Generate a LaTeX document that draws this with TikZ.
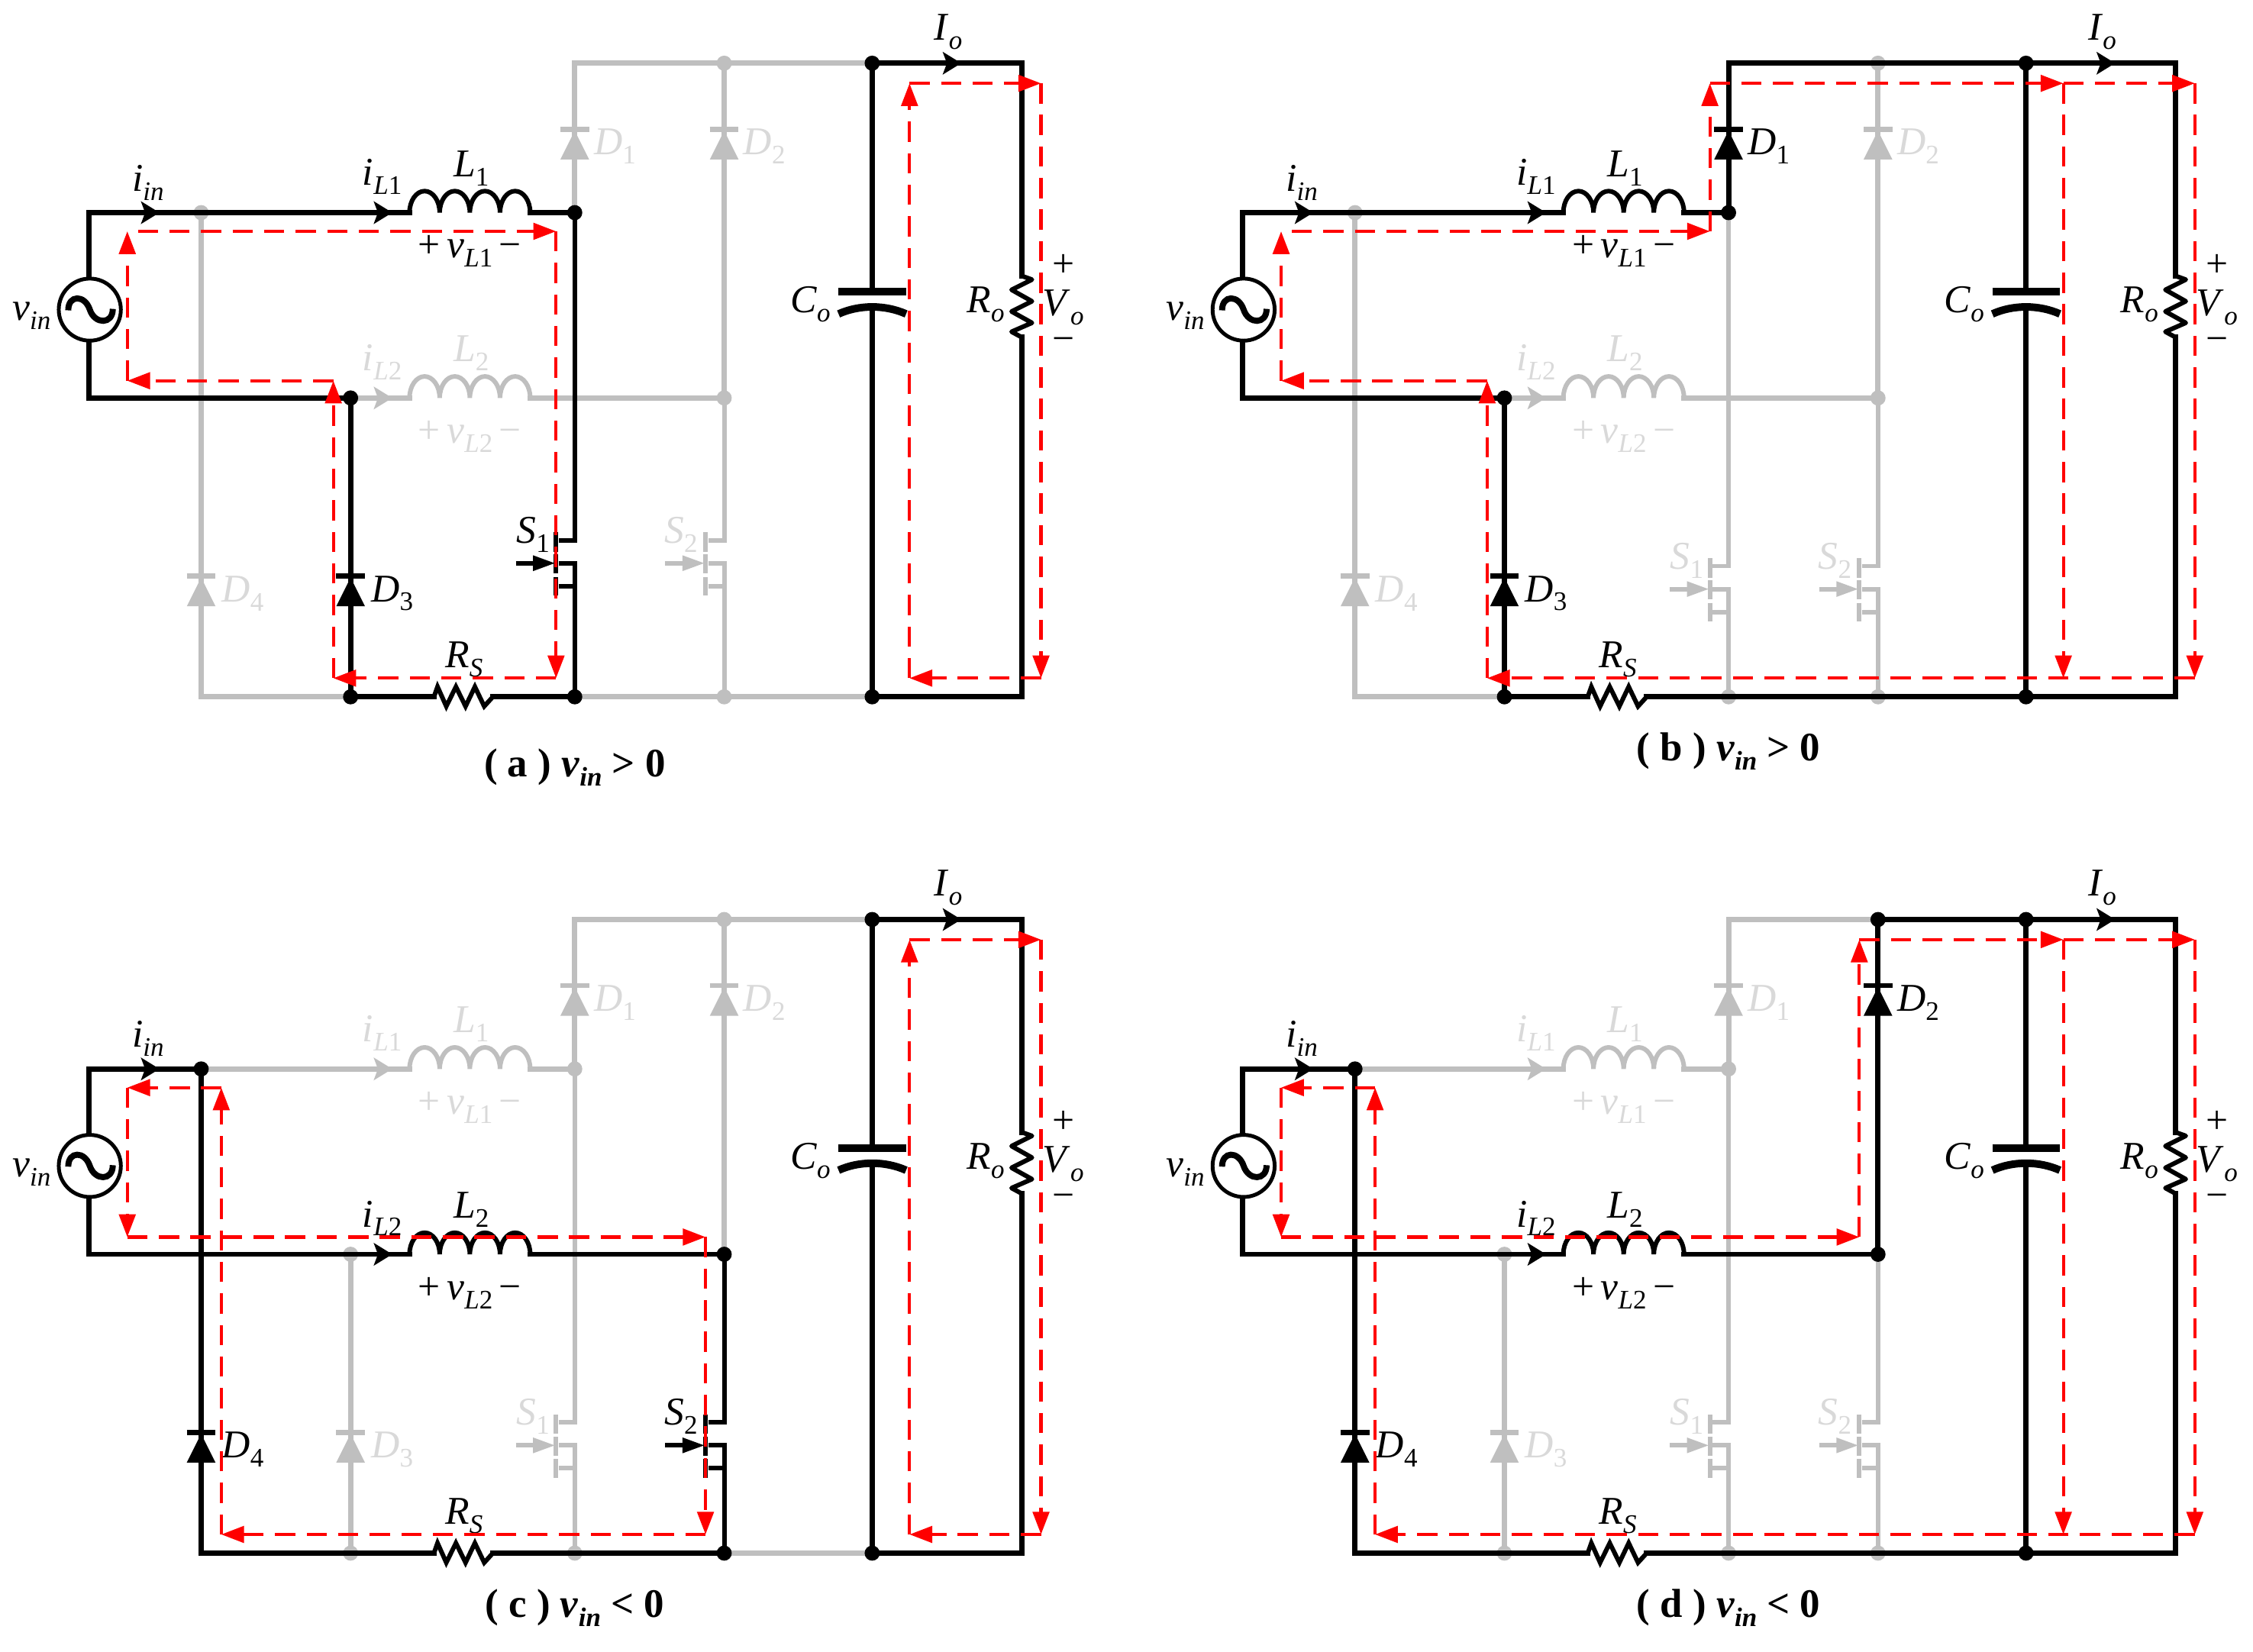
\documentclass[tikz,border=0pt]{standalone}
\usepackage{fontspec}
\setmainfont{Liberation Serif}
\usepackage{xcolor}
\usepackage{tikz}
\usetikzlibrary{arrows.meta}
\definecolor{wiregray}{RGB}{191,191,191}
\definecolor{textgray}{RGB}{217,217,217}
\newcommand\live{\colorlet{wirec}{black}\colorlet{textc}{black}}
\newcommand\idle{\colorlet{wirec}{wiregray}\colorlet{textc}{textgray}}
\newcommand\sy[2]{\textit{#1}\raisebox{-3.6pt}{\fontsize{10.6}{12}\selectfont #2}}
\tikzset{
    wire/.style = {draw=wirec, line width=2.1pt, line cap=rect},
    part/.style = {draw=wirec, line width=1.8pt},
    jdot/.style = {circle, fill=wirec, inner sep=0pt, minimum size=6pt},
    lab/.style = {inner sep=0pt, text=textc, font=\fontsize{15.6}{18}\selectfont},
    ttl/.style = {inner sep=0pt, font=\bfseries\fontsize{16}{18}\selectfont},
    flow/.style = {draw=red, line width=1.25pt, dash pattern=on 8pt off 4.5pt, -{Triangle[length=9pt,width=6.5pt]}}
}
\newcommand\jn[1]{\node[jdot] (j#1) at (#1) {};}
\newcommand\wtip[1]{\fill[wirec,shift={(#1)}] (0,0) -- (-13,8) -- (-10,0) -- (-13,-8) -- cycle;}
\newcommand\diode[1]{%
    \draw[draw=wirec,line width=2pt,shift={(#1)}] (-10,0) -- (10,0);
    \fill[wirec,shift={(#1)}] (0,-1) -- (-10,-21) -- (10,-21) -- cycle;}
\newcommand\coil[1]{%
    \draw[part] (#1) arc[start angle=180,end angle=0,x radius=10.5,y radius=15]
        arc[start angle=180,end angle=0,x radius=10.5,y radius=15]
        arc[start angle=180,end angle=0,x radius=10.5,y radius=15]
        arc[start angle=180,end angle=0,x radius=10.5,y radius=15];}
\newcommand\fet[3]{%
    \begin{scope}[shift={(#1)}]
        \draw[part] (#2) -- (0,16) -- (-11,16);
        \draw[part] (-11,0) -- (0,0) -- (#3);
        \draw[part] (-11,-16) -- (0,-16);
        \draw[part] (-13,21.5) -- (-13,8);
        \draw[part] (-13,6) -- (-13,-7);
        \draw[part] (-13,-9.5) -- (-13,-22.5);
        \draw[part] (-41,0) -- (-20,0);
        \fill[wirec] (-14,0) -- (-29,5.5) -- (-29,-5.5) -- cycle;
    \end{scope}}
% points of one panel
\newcommand\circuitnodes{%
    \coordinate (n62t) at (62,-148); \coordinate (n62b) at (62,-277);
    \coordinate (n140t) at (140,-148); \coordinate (n140b) at (140,-485);
    \coordinate (n244m) at (244,-277); \coordinate (n244b) at (244,-485);
    \coordinate (n400u) at (400,-44); \coordinate (n400t) at (400,-148); \coordinate (n400b) at (400,-485);
    \coordinate (n504u) at (504,-44); \coordinate (n504m) at (504,-277); \coordinate (n504b) at (504,-485);
    \coordinate (n607u) at (607,-44); \coordinate (n607b) at (607,-485);
    \coordinate (n711u) at (711,-44); \coordinate (n711b) at (711,-485);
    \coordinate (lia) at (285,-148); \coordinate (lib) at (369,-148);
    \coordinate (lja) at (285,-277); \coordinate (ljb) at (369,-277);
    \coordinate (rsa) at (302,-485); \coordinate (rsb) at (343,-485);
    \coordinate (roa) at (711,-192); \coordinate (rob) at (711,-234.7);
    \coordinate (cpa) at (607,-203); \coordinate (cpb) at (607,-213);
    \coordinate (srct) at (62,-193); \coordinate (srcb) at (62,-238);
    \coordinate (tin) at (111,-148); \coordinate (tli) at (273,-148); \coordinate (tlj) at (273,-277); \coordinate (tio) at (669,-44);
    \coordinate (di) at (400,-90); \coordinate (dj) at (504,-90); \coordinate (dk) at (244,-401); \coordinate (dl) at (140,-401);
    \coordinate (sig) at (400,-\gy); \coordinate (sjg) at (504,-\gy);
    \coordinate (fa) at (88.6,-161); \coordinate (fq) at (96,-161); \coordinate (fb) at (387,-161); \coordinate (fc) at (387,-472);
    \coordinate (fd) at (232,-472); \coordinate (fe) at (232,-265); \coordinate (ff) at (88.6,-265);
    \coordinate (fg) at (387,-58); \coordinate (fh) at (633,-58); \coordinate (fi) at (724.5,-58);
    \coordinate (fj) at (724.5,-472); \coordinate (fk) at (633,-472); \coordinate (fl) at (154,-161);
    \coordinate (fm) at (491,-265); \coordinate (fn) at (491,-472); \coordinate (fo) at (154,-472);
    \coordinate (fp) at (491,-58);}
% branches
\newcommand\brin{%
    \draw[wire] (n140t) -- (n62t) -- (srct);
    \draw[wire] (srcb) -- (n62b) -- (n244m);
    \node[circle,draw=black,line width=1.5pt,minimum size=24.6pt,inner sep=0pt] (src) at (62.5,-215.5) {};
    \draw[line width=2.4pt] (47.5,-216) .. controls (47.5,-205) and (59,-205) .. (62.5,-215.5) .. controls (66,-226) and (78.5,-226) .. (78.5,-215);
    \wtip{tin}
    \node[lab] (lvin) at (22,-220) {\sy{v}{\textit{in}}};
    \node[lab] (liin) at (103,-127) {\sy{i}{\textit{in}}};}
\newcommand\bri{%
    \draw[wire] (n140t) -- (lia);
    \coil{lia}
    \draw[wire] (lib) -- (n400t);
    \wtip{tli}
    \node[lab] (lili) at (266,-123) {\sy{i}{\textit{L}1}};
    \node[lab] (lli) at (328,-117) {\sy{L}{1}};
    \node[lab] (lvli) at (327,-175) {+\,\sy{v}{\textit{L}1}\,−};}
\newcommand\brj{%
    \draw[wire] (n244m) -- (lja);
    \coil{lja}
    \draw[wire] (ljb) -- (n504m);
    \wtip{tlj}
    \node[lab] (lilj) at (266,-252) {\sy{i}{\textit{L}2}};
    \node[lab] (llj) at (328,-246) {\sy{L}{2}};
    \node[lab] (lvlj) at (327,-304) {+\,\sy{v}{\textit{L}2}\,−};}
\newcommand\coldi{\draw[wire] (n400t) -- (n400u); \diode{di} \node[lab] (ldi) at (428,-102) {\sy{D}{1}};}
\newcommand\coldj{\draw[wire] (n504m) -- (n504u); \diode{dj} \node[lab] (ldj) at (532,-102) {\sy{D}{2}};}
\newcommand\coldk{\draw[wire] (n244b) -- (n244m); \diode{dk} \node[lab] (ldk) at (273,-413) {\sy{D}{3}};}
\newcommand\coldl{\draw[wire] (n140b) -- (n140t); \diode{dl} \node[lab] (ldl) at (169,-413) {\sy{D}{4}};}
\newcommand\colsi{\fet{sig}{n400t}{n400b} \node[lab] (lsi) at (371,-\gy+20) {\sy{S}{1}};}
\newcommand\colsj{\fet{sjg}{n504m}{n504b} \node[lab] (lsj) at (474,-\gy+20) {\sy{S}{2}};}
\newcommand\bru{%
    \draw[wire] (n607u) -- (cpa);
    \draw[wire] (cpb) -- (n607b);
    \draw[line width=3pt] (583.6,-203) -- (630.6,-203);
    \draw[line width=3pt] (583.6,-218.5) .. controls (598,-212) and (616,-212) .. (630.6,-218.5);
    \draw[wire] (n607u) -- (n711u) -- (roa);
    \draw[part,line join=round] (roa) -- ++(7.2,-2.6) -- ++(-14.2,-7.1) -- ++(14.2,-8) -- ++(-14.2,-7.1) -- ++(14.2,-7.9) -- ++(-14.2,-6.2) -- (rob);
    \draw[wire] (rob) -- (n711b) -- (n607b);
    \wtip{tio}
    \node[lab] (lco) at (564,-212) {\sy{C}{\textit{o}}};
    \node[lab] (lro) at (686,-212) {\sy{R}{\textit{o}}};
    \node[lab] (lio) at (660,-22) {\sy{I}{\textit{o}}};
    \node[lab] (lvo) at (740,-214) {\sy{V}{\textit{o}}};
    \node[lab] (lpl) at (740,-185) {+};
    \node[lab] (lmi) at (740,-240) {−};}
\newcommand\brs{%
    \draw[wire] (n244b) -- (rsa);
    \draw[part] (rsa) -- ++(2.5,7) -- ++(6.1,-13.6) -- ++(6.7,13.6) -- ++(6.7,-13.6) -- ++(6.5,13.6) -- ++(6.5,-13.6) -- (rsb);
    \draw[wire] (rsb) -- (n400b);
    \node[lab] (lrs) at (323,-459) {\sy{R}{\textit{S}}};}
\begin{document}
\begin{tikzpicture}[x=0.02cm,y=0.02cm]
    \useasboundingbox (0,0) rectangle (1568,-1149.3);
    % panel a
    \begin{scope}
        \def\gy{392}
        \circuitnodes
        \idle
        \jn{n140t} \jn{n504u} \jn{n504m} \jn{n504b}
        \brj \coldi \coldj \coldl \colsj
        \draw[wire] (n140b) -- (n244b);
        \draw[wire] (n400b) -- (n607b);
        \draw[wire] (n400u) -- (n607u);
        \live
        \brin \bri \coldk \colsi \brs \bru
        \jn{n400t} \jn{n244m} \jn{n244b} \jn{n400b} \jn{n607u} \jn{n607b}
        \foreach \a/\b in {fq/fb,fb/fc,fc/fd,fd/fe,fe/ff,ff/fa,fk/fh,fh/fi,fi/fj,fj/fk}
            \draw[flow] (\a) -- (\b);
        \node[ttl] (capa) at (400,-534) {( a ) \sy{v}{\textit{in}} > 0};
    \end{scope}
    % panel b
    \begin{scope}[shift={(803,0)}]
        \def\gy{410}
        \circuitnodes
        \idle
        \jn{n140t} \jn{n504u} \jn{n504m} \jn{n400b} \jn{n504b}
        \brj \coldj \coldl \colsi \colsj
        \draw[wire] (n140b) -- (n244b);
        \live
        \brin \bri \coldi \coldk \brs \bru
        \draw[wire] (n400b) -- (n607b);
        \draw[wire] (n400u) -- (n607u);
        \jn{n400t} \jn{n244m} \jn{n244b} \jn{n607u} \jn{n607b}
        \foreach \a/\b in {fq/fb,fb/fg,fg/fh,fh/fi,fi/fj,fh/fk,fj/fd,fd/fe,fe/ff,ff/fa}
            \draw[flow] (\a) -- (\b);
        \node[ttl] (capb) at (400,-523) {( b ) \sy{v}{\textit{in}} > 0};
    \end{scope}
    % panel c
    \begin{scope}[shift={(0,-596)}]
        \def\gy{410}
        \circuitnodes
        \idle
        \jn{n400t} \jn{n244m} \jn{n244b} \jn{n400b} \jn{n504u}
        \bri \coldi \coldj \coldk \colsi
        \draw[wire] (n504b) -- (n607b);
        \draw[wire] (n400u) -- (n607u);
        \live
        \brin \brj \coldl \colsj \brs \bru
        \draw[wire] (n140b) -- (n244b);
        \draw[wire] (n400b) -- (n504b);
        \jn{n140t} \jn{n504m} \jn{n504b} \jn{n607u} \jn{n607b}
        \foreach \a/\b in {fl/fa,fa/ff,ff/fm,fm/fn,fn/fo,fo/fl,fk/fh,fh/fi,fi/fj,fj/fk}
            \draw[flow] (\a) -- (\b);
        \node[ttl] (capc) at (400,-523) {( c ) \sy{v}{\textit{in}} < 0};
    \end{scope}
    % panel d
    \begin{scope}[shift={(803,-596)}]
        \def\gy{410}
        \circuitnodes
        \idle
        \jn{n400t} \jn{n244m} \jn{n244b} \jn{n400b} \jn{n504b}
        \bri \coldi \coldk \colsi \colsj
        \draw[wire] (n400u) -- (n504u);
        \live
        \brin \brj \coldj \coldl \brs \bru
        \draw[wire] (n140b) -- (n244b);
        \draw[wire] (n400b) -- (n607b);
        \draw[wire] (n504u) -- (n607u);
        \jn{n140t} \jn{n504m} \jn{n504u} \jn{n607u} \jn{n607b}
        \foreach \a/\b in {fl/fa,fa/ff,ff/fm,fm/fp,fp/fh,fh/fi,fi/fj,fh/fk,fj/fo,fo/fl}
            \draw[flow] (\a) -- (\b);
        \node[ttl] (capd) at (400,-523) {( d ) \sy{v}{\textit{in}} < 0};
    \end{scope}
\end{tikzpicture}
\end{document}
